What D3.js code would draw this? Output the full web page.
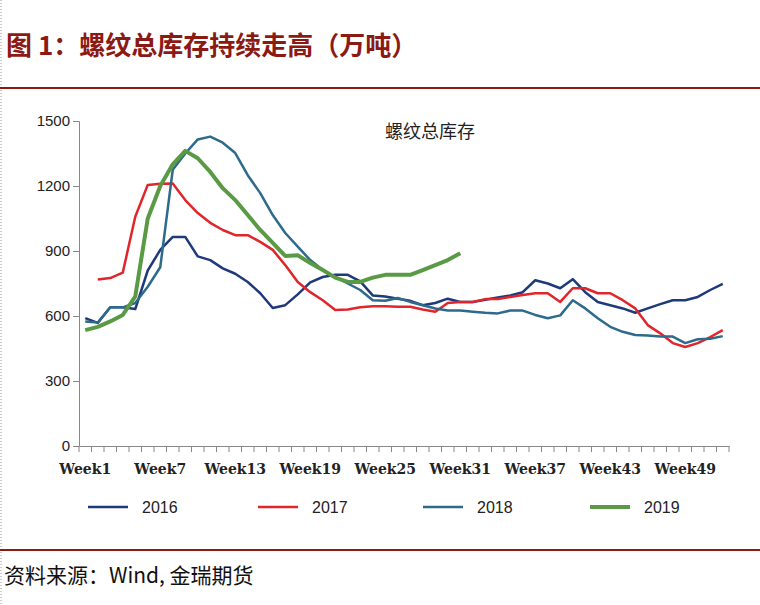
<!DOCTYPE html>
<html><head><meta charset="utf-8">
<script src="https://cdn.jsdelivr.net/npm/d3@7"></script>
<style>
body{margin:0;background:#fff;font-family:"Noto Sans CJK SC","DejaVu Sans",sans-serif;}
</style></head><body>
<script>
// weeks 1..52
var weeks = d3.range(1, 53).map(function(i) { return "Week" + i; });
var tickWeeks = ["Week1","Week7","Week13","Week19","Week25","Week31","Week37","Week43","Week49"];
var yTicks = [0, 300, 600, 900, 1200, 1500];
var seriesNames = ["2016", "2017", "2018", "2019"];
var seriesColors = ["#1f3a7a", "#e0262b", "#2d6a8c", "#5a9a45"];
var seriesWidths = [2.5, 2.5, 2.5, 4];

var v2016 = [590,568,640,640,632,810,905,965,965,875,858,820,795,757,705,637,650,700,755,780,790,790,760,695,690,680,670,650,660,680,665,665,675,685,695,710,765,750,728,770,710,665,650,635,615,635,655,673,673,688,720,748];
var v2017 = [null,768,775,800,1058,1205,1210,1212,1135,1075,1030,997,973,973,942,905,835,757,710,673,628,630,640,645,645,643,643,630,620,660,665,665,678,678,688,697,705,705,665,728,728,705,705,673,635,558,520,475,457,475,503,535];
var v2018 = [575,570,640,640,660,735,825,1275,1350,1415,1428,1400,1352,1250,1167,1066,983,920,858,812,780,750,720,673,670,683,665,650,635,625,625,620,615,612,625,625,605,590,603,673,635,590,550,527,512,510,505,505,475,493,495,507];
var v2019 = [535,550,575,605,690,1050,1200,1300,1362,1328,1265,1190,1135,1066,997,937,877,880,845,812,777,757,757,777,790,790,790,812,835,858,890];
var allSeries = [v2016, v2017, v2018, v2019];

var W = 760, H = 605;
var svg = d3.select("body").append("svg").attr("width", W).attr("height", H);

// frame
svg.append("line").attr("x1", 1).attr("x2", 1).attr("y1", 0).attr("y2", H)
  .attr("stroke", "#999").attr("stroke-dasharray", "1,2");
svg.append("text").attr("x", 6).attr("y", 55)
  .attr("fill", "#8b1a14").style("font-size", "26px").style("font-weight", "bold")
  .style("font-family", "'Noto Sans CJK SC'")
  .text("图 1：螺纹总库存持续走高（万吨）");
svg.append("line").attr("x1", 0).attr("x2", W).attr("y1", 88).attr("y2", 88)
  .attr("stroke", "#8b1a14").attr("stroke-width", 2);
svg.append("line").attr("x1", 0).attr("x2", W).attr("y1", 550).attr("y2", 550)
  .attr("stroke", "#8b1a14").attr("stroke-width", 2);
svg.append("text").attr("x", 4).attr("y", 583)
  .style("font-size", "21px").attr("fill", "#111")
  .text("资料来源：Wind, 金瑞期货");

var x = d3.scaleBand().domain(weeks).range([79, 729]);
var y = d3.scaleLinear().domain([0, 1500]).range([446, 121]);

var xAxis = svg.append("g").attr("transform", "translate(0,446)")
  .call(d3.axisBottom(x).tickSize(0).tickFormat(""));
xAxis.select(".domain").attr("stroke", "#888");
// tick marks at band edges
svg.selectAll(".xt").data(weeks.concat(["end"])).enter().append("line")
  .attr("x1", function(d, i) { return 79 + i * x.step(); })
  .attr("x2", function(d, i) { return 79 + i * x.step(); })
  .attr("y1", 446).attr("y2", 452).attr("stroke", "#888");
svg.selectAll(".xl").data(tickWeeks).enter().append("text")
  .attr("x", function(d) { return x(d) + x.bandwidth() / 2; })
  .attr("y", 474).attr("text-anchor", "middle")
  .style("font-family", "'DejaVu Serif'").style("font-size", "14px").style("font-weight", "bold")
  .attr("fill", "#222").text(function(d) { return d; });

var yAxis = svg.append("g").attr("transform", "translate(79,0)")
  .call(d3.axisLeft(y).tickValues(yTicks).tickSize(6).tickFormat(d3.format("d")));
yAxis.select(".domain").attr("stroke", "#888");
yAxis.selectAll(".tick line").attr("stroke", "#888");
yAxis.selectAll(".tick text").style("font-size", "15px").style("font-family", "'Liberation Sans'")
  .attr("fill", "#222").attr("x", -9);

svg.append("text").attr("x", 430).attr("y", 138).attr("text-anchor", "middle")
  .style("font-size", "18px").attr("fill", "#222").text("螺纹总库存");

var line = d3.line()
  .defined(function(d) { return d != null; })
  .x(function(d, i) { return x(weeks[i]) + x.bandwidth() / 2; })
  .y(function(d) { return y(d); });

allSeries.forEach(function(s, k) {
  svg.append("path").datum(s).attr("d", line).attr("fill", "none")
    .attr("stroke", seriesColors[k]).attr("stroke-width", seriesWidths[k])
    .attr("stroke-linejoin", "round");
});

// legend
var lx = [88, 258, 423, 590];
seriesNames.forEach(function(n, k) {
  svg.append("line").attr("x1", lx[k]).attr("x2", lx[k] + 40).attr("y1", 507).attr("y2", 507)
    .attr("stroke", seriesColors[k]).attr("stroke-width", seriesWidths[k]);
  svg.append("text").attr("x", lx[k] + 54).attr("y", 513)
    .style("font-size", "16px").style("font-family", "'Liberation Sans'").attr("fill", "#222").text(n);
});
</script>
</body></html>
